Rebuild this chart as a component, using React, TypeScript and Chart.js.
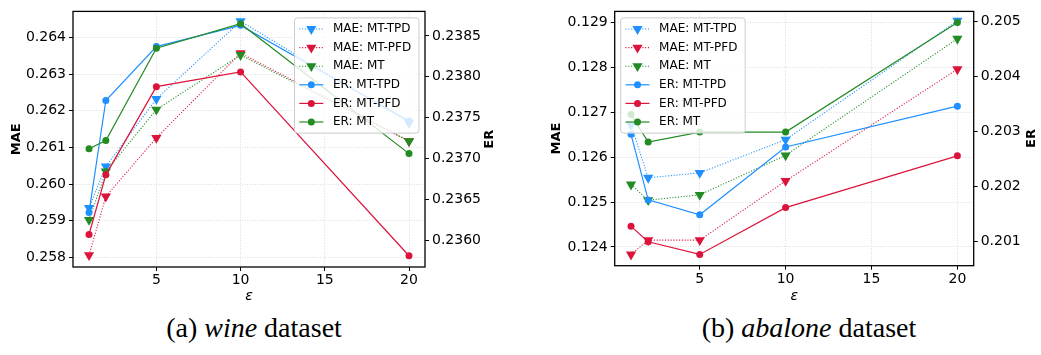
import React, { useEffect, useRef } from "react";
import { Chart, registerables } from "chart.js";

Chart.register(...registerables);
Chart.defaults.font.family = '"DejaVu Sans", sans-serif';
Chart.defaults.color = "#000";

// ---------- data ----------
const epsilons = [1, 2, 5, 10, 20];
const xTickLabels = ["5", "10", "15", "20"];
const seriesLabels = ["MAE: MT-TPD", "MAE: MT-PFD", "MAE: MT", "ER: MT-TPD", "ER: MT-PFD", "ER: MT"];

// (a) wine
const wineMaeTpd = [0.25935, 0.26048, 0.26232, 0.26444, 0.26167];
const wineMaePfd = [0.25806, 0.25966, 0.26126, 0.26357, 0.26117];
const wineMaeMt = [0.25902, 0.26034, 0.26203, 0.26352, 0.26117];
const wineErTpd = [0.23634, 0.23771, 0.23837, 0.23863, 0.23746];
const wineErPfd = [0.23607, 0.2368, 0.23788, 0.23806, 0.23581];
const wineErMt = [0.23712, 0.23722, 0.23835, 0.23865, 0.23706];
const wineMaeTicks = ["0.258", "0.259", "0.260", "0.261", "0.262", "0.263", "0.264"];
const wineErTicks = ["0.2360", "0.2365", "0.2370", "0.2375", "0.2380", "0.2385"];

// (b) abalone
const abaMaeTpd = [0.12672, 0.12554, 0.12565, 0.12639, 0.12904];
const abaMaePfd = [0.12383, 0.12415, 0.12415, 0.12547, 0.12796];
const abaMaeMt = [0.12539, 0.12504, 0.12516, 0.12604, 0.12864];
const abaErTpd = [0.20295, 0.20176, 0.20149, 0.20272, 0.20346];
const abaErPfd = [0.20128, 0.201, 0.20077, 0.20162, 0.20256];
const abaErMt = [0.20331, 0.20281, 0.20299, 0.20299, 0.20498];
const abaMaeTicks = ["0.124", "0.125", "0.126", "0.127", "0.128", "0.129"];
const abaErTicks = ["0.201", "0.202", "0.203", "0.204", "0.205"];

const COLORS = ["#1E90FF", "#DC143C", "#228B22"];
const GRID = "rgba(176,176,176,0.55)";

// ---------- decoration plugin: spines, legend, right axis title ----------
const decoPlugin = {
  id: "deco",
  afterDatasetsDraw(chart: any, _args: any, opts: any) {
    const ctx = chart.ctx as CanvasRenderingContext2D;
    const ca = chart.chartArea;
    ctx.save();
    // spines
    ctx.strokeStyle = "#000";
    ctx.lineWidth = 1.3;
    ctx.setLineDash([]);
    ctx.strokeRect(ca.left, ca.top, ca.right - ca.left, ca.bottom - ca.top);

    // legend
    const fs = 12;
    ctx.font = `${fs}px "DejaVu Sans"`;
    const dsets = chart.data.datasets;
    const textW = Math.max(...dsets.map((d: any) => ctx.measureText(d.label).width));
    const pad = 0.4 * fs, hl = 2 * fs, htp = 0.8 * fs, rowH = 12.6, gap = 0.5 * fs;
    const w = pad * 2 + hl + htp + textW + 3;
    const h = pad * 2 + dsets.length * rowH + (dsets.length - 1) * gap;
    const x0 = opts.side === "right" ? ca.right - 6 - w : ca.left + 6;
    const y0 = ca.top + 6.5;
    const r = 3;
    ctx.beginPath();
    ctx.moveTo(x0 + r, y0);
    ctx.lineTo(x0 + w - r, y0);
    ctx.arcTo(x0 + w, y0, x0 + w, y0 + r, r);
    ctx.lineTo(x0 + w, y0 + h - r);
    ctx.arcTo(x0 + w, y0 + h, x0 + w - r, y0 + h, r);
    ctx.lineTo(x0 + r, y0 + h);
    ctx.arcTo(x0, y0 + h, x0, y0 + h - r, r);
    ctx.lineTo(x0, y0 + r);
    ctx.arcTo(x0, y0, x0 + r, y0, r);
    ctx.closePath();
    ctx.fillStyle = "rgba(255,255,255,0.8)";
    ctx.fill();
    ctx.strokeStyle = "#cccccc";
    ctx.lineWidth = 1;
    ctx.stroke();

    dsets.forEach((d: any, i: number) => {
      const cy = y0 + pad + i * (rowH + gap) + rowH / 2;
      const lx0 = x0 + pad, lx1 = lx0 + hl, mx = (lx0 + lx1) / 2;
      ctx.strokeStyle = d.borderColor;
      ctx.lineWidth = d.borderWidth;
      ctx.setLineDash(d.borderDash || []);
      ctx.beginPath();
      ctx.moveTo(lx0, cy);
      ctx.lineTo(lx1, cy);
      ctx.stroke();
      ctx.setLineDash([]);
      ctx.fillStyle = d.pointBackgroundColor;
      ctx.beginPath();
      if (d.pointStyle === "triangle") {
        const rr = d.pointRadius;
        ctx.moveTo(mx - rr * 0.866, cy - rr * 0.5);
        ctx.lineTo(mx + rr * 0.866, cy - rr * 0.5);
        ctx.lineTo(mx, cy + rr);
        ctx.closePath();
      } else {
        ctx.arc(mx, cy, d.pointRadius, 0, Math.PI * 2);
      }
      ctx.fill();
      ctx.fillStyle = "#000";
      ctx.textBaseline = "middle";
      ctx.textAlign = "left";
      ctx.fillText(d.label, lx1 + htp, cy);
    });

    // right axis title, rotated like matplotlib (bottom-to-top)
    ctx.font = `bold 13px "DejaVu Sans"`;
    ctx.translate(opts.erX, (ca.top + ca.bottom) / 2);
    ctx.rotate(-Math.PI / 2);
    ctx.textAlign = "center";
    ctx.textBaseline = "middle";
    ctx.fillText("ER", 0, 0);
    ctx.restore();
  },
};

type Geo = {
  width: number;
  height: number;
  top: number;
  leftW: number;
  rightW: number;
  xH: number;
  erX: number;
  legendSide: "left" | "right";
  maeMin: number;
  maeMax: number;
  erMin: number;
  erMax: number;
};

function makeConfig(mae: number[][], er: number[][], maeTicks: string[], erTicks: string[], g: Geo): any {
  const datasets: any[] = [];
  mae.forEach((vals, i) =>
    datasets.push({
      label: seriesLabels[i],
      data: epsilons.map((x, k) => ({ x, y: vals[k] })),
      yAxisID: "y",
      borderColor: COLORS[i],
      backgroundColor: COLORS[i],
      pointBackgroundColor: COLORS[i],
      pointBorderColor: COLORS[i],
      borderWidth: 1.1,
      borderDash: [1.1, 1.7],
      pointStyle: "triangle",
      rotation: 180,
      pointRadius: 5.9,
      pointBorderWidth: 0,
      order: 6 - i,
    })
  );
  er.forEach((vals, i) =>
    datasets.push({
      label: seriesLabels[3 + i],
      data: epsilons.map((x, k) => ({ x, y: vals[k] })),
      yAxisID: "y1",
      borderColor: COLORS[i],
      backgroundColor: COLORS[i],
      pointBackgroundColor: COLORS[i],
      pointBorderColor: COLORS[i],
      borderWidth: 1.2,
      pointStyle: "circle",
      pointRadius: 3.5,
      pointBorderWidth: 0,
      order: 3 - i,
    })
  );
  const tickFont = { size: 14 };
  return {
    type: "line",
    data: { datasets },
    plugins: [decoPlugin],
    options: {
      animation: false,
      responsive: false,
      events: [],
      layout: { padding: { top: g.top, left: 0, right: 0, bottom: 0 } },
      plugins: {
        legend: { display: false },
        tooltip: { enabled: false },
        deco: { side: g.legendSide, erX: g.erX },
      },
      scales: {
        x: {
          type: "linear",
          position: "bottom",
          min: 0.05,
          max: 20.95,
          afterBuildTicks: (s: any) => {
            s.ticks = xTickLabels.map((v) => ({ value: Number(v) }));
          },
          afterFit: (s: any) => {
            s.height = g.xH;
          },
          ticks: { font: tickFont, color: "#000", padding: 1, maxRotation: 0, autoSkip: false, callback: (v: any) => String(v) },
          grid: { color: GRID, lineWidth: 0.8, tickColor: "#000", tickLength: 4, tickWidth: 1 },
          border: { display: false, dash: [1, 1.6] },
          title: { display: true, text: "ε", font: { size: 14, style: "italic" }, color: "#000", padding: { top: 0, bottom: 5 } },
        },
        y: {
          type: "linear",
          position: "left",
          min: g.maeMin,
          max: g.maeMax,
          afterBuildTicks: (s: any) => {
            s.ticks = maeTicks.map((v) => ({ value: Number(v) }));
          },
          afterFit: (s: any) => {
            s.width = g.leftW;
          },
          ticks: {
            font: tickFont,
            color: "#000",
            padding: 3,
            autoSkip: false,
            callback: (v: any) => maeTicks.find((t) => Math.abs(Number(t) - v) < 1e-9) ?? "",
          },
          grid: { color: GRID, lineWidth: 0.8, tickColor: "#000", tickLength: 4, tickWidth: 1 },
          border: { display: false, dash: [1, 1.6] },
          title: { display: true, text: "MAE", font: { size: 13, weight: "bold" }, color: "#000", padding: { top: 9, bottom: 0 } },
        },
        y1: {
          type: "linear",
          position: "right",
          min: g.erMin,
          max: g.erMax,
          afterBuildTicks: (s: any) => {
            s.ticks = erTicks.map((v) => ({ value: Number(v) }));
          },
          afterFit: (s: any) => {
            s.width = g.rightW;
          },
          ticks: {
            font: tickFont,
            color: "#000",
            padding: 3,
            autoSkip: false,
            callback: (v: any) => erTicks.find((t) => Math.abs(Number(t) - v) < 1e-9) ?? "",
          },
          grid: { drawOnChartArea: false, tickColor: "#000", tickLength: 4, tickWidth: 1 },
          border: { display: false },
        },
      },
    },
  };
}

function Panel(props: { left: number; geo: Geo; build: () => any }) {
  const ref = useRef<HTMLCanvasElement>(null);
  useEffect(() => {
    const chart = new Chart(ref.current as HTMLCanvasElement, props.build());
    return () => chart.destroy();
  }, []);
  return (
    <canvas
      ref={ref}
      width={props.geo.width}
      height={props.geo.height}
      style={{ position: "absolute", left: props.left, top: 0, width: props.geo.width, height: props.geo.height }}
    />
  );
}

const wineGeo: Geo = {
  width: 520,
  height: 310,
  top: 9.5,
  leftW: 73,
  rightW: 95,
  xH: 43,
  erX: 489.5,
  legendSide: "right",
  maeMin: 0.257737,
  maeMax: 0.264709,
  erMin: 0.235672,
  erMax: 0.238801,
};

const abaGeo: Geo = {
  width: 501,
  height: 310,
  top: 4,
  leftW: 74.7,
  rightW: 67.3,
  xH: 44.3,
  erX: 491.7,
  legendSide: "left",
  maeMin: 0.12358,
  maeMax: 0.12925,
  erMin: 0.200566,
  erMax: 0.20518,
};

const captionStyle: React.CSSProperties = {
  position: "absolute",
  width: 400,
  textAlign: "center",
  fontFamily: '"Liberation Serif", "Times New Roman", serif',
  fontSize: 28,
  lineHeight: "28px",
  color: "#000",
  whiteSpace: "nowrap",
};

export default function App() {
  return (
    <div style={{ position: "absolute", left: 0, top: 0, width: 1041, height: 355, background: "#fff", overflow: "hidden" }}>
      <Panel
        left={0}
        geo={wineGeo}
        build={() =>
          makeConfig([wineMaeTpd, wineMaePfd, wineMaeMt], [wineErTpd, wineErPfd, wineErMt], wineMaeTicks, wineErTicks, wineGeo)
        }
      />
      <Panel
        left={540}
        geo={abaGeo}
        build={() => makeConfig([abaMaeTpd, abaMaePfd, abaMaeMt], [abaErTpd, abaErPfd, abaErMt], abaMaeTicks, abaErTicks, abaGeo)}
      />
      <div style={{ ...captionStyle, left: 254 - 200, top: 314 }}>
        (a) <i>wine</i> dataset
      </div>
      <div style={{ ...captionStyle, left: 809 - 200, top: 314 }}>
        (b) <i>abalone</i> dataset
      </div>
    </div>
  );
}
